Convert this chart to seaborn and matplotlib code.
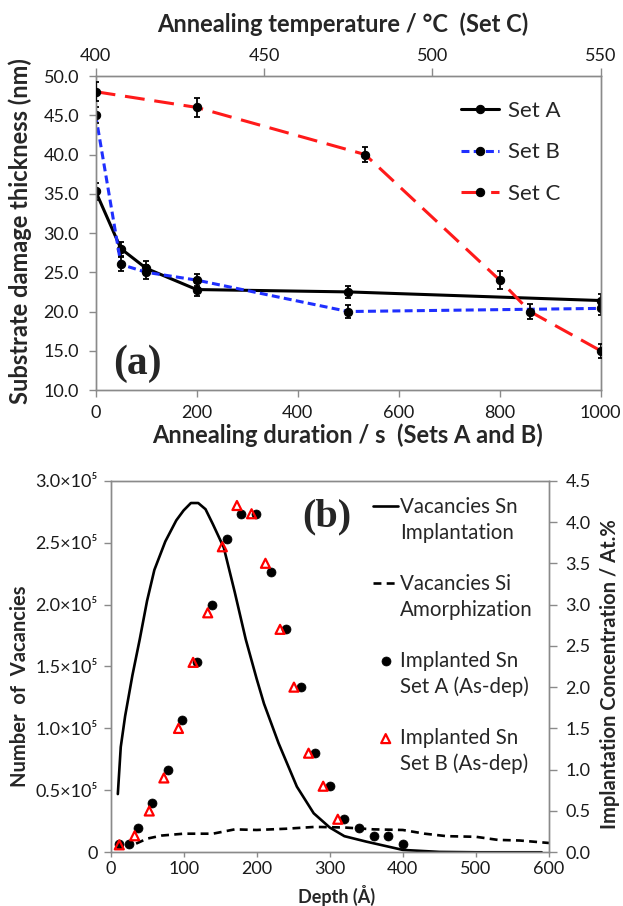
import numpy as np
import pandas as pd
import matplotlib
matplotlib.use("Agg")
import matplotlib.pyplot as plt
import seaborn as sns
from matplotlib.lines import Line2D
from matplotlib.ticker import FixedLocator, FuncFormatter

# ---------------- Panel (a) data ----------------
duration_s = [0, 50, 100, 200, 500, 1000]
set_a_nm = [35.3, 28.0, 25.5, 22.8, 22.5, 21.4]
set_a_err = [1.1, 0.9, 0.9, 0.8, 0.8, 0.8]
set_b_nm = [45.0, 26.0, 25.0, 24.0, 20.0, 20.4]
set_b_err = [1.0, 0.9, 0.9, 0.8, 0.8, 0.8]
temp_c = [400, 430, 480, 520, 529, 550]
set_c_nm = [48.0, 46.0, 40.0, 24.0, 20.0, 15.0]
set_c_err = [1.2, 1.2, 1.0, 1.1, 0.9, 0.9]

a_xticks = [0, 200, 400, 600, 800, 1000]
a_yticks = [10, 15, 20, 25, 30, 35, 40, 45, 50]
a_top_ticks = [400, 450, 500, 550]

# ---------------- Panel (b) data ----------------
vac_sn_depth = [10, 14, 20, 30, 40, 50, 60, 75, 90, 100, 110, 120, 130, 140,
                155, 170, 185, 200, 210, 230, 255, 278, 300, 320, 350, 400,
                450, 500, 550, 590]
vac_sn = [47000, 85000, 110000, 143000, 172000, 203000, 228000, 251000,
          268000, 276000, 282000, 282000, 277000, 265000, 246000, 210000,
          172000, 140000, 120000, 88000, 53000, 31500, 20000, 13000, 8600,
          1900, 300, 0, 0, 0]
vac_si_depth = [35, 50, 70, 100, 140, 170, 200, 240, 280, 320, 360, 400, 430,
                460, 500, 530, 560, 600]
vac_si = [7000, 11000, 13500, 15000, 15000, 18500, 18000, 19000, 20500, 20000,
          18500, 18000, 15000, 13000, 12500, 10000, 9500, 7500]
sn_a_depth = [12, 25, 38, 57, 78, 98, 118, 139, 159, 179, 199, 220, 240, 260,
              280, 300, 320, 340, 360, 380, 400]
sn_a_conc = [0.10, 0.10, 0.30, 0.60, 1.00, 1.60, 2.30, 3.00, 3.80, 4.10, 4.10,
             3.40, 2.70, 2.00, 1.20, 0.80, 0.40, 0.30, 0.20, 0.20, 0.10]
sn_b_depth = [12, 33, 53, 73, 93, 113, 133, 153, 173, 193, 212, 232, 251, 271,
              291, 311]
sn_b_conc = [0.09, 0.20, 0.50, 0.90, 1.50, 2.30, 2.90, 3.70, 4.20, 4.10, 3.50,
             2.70, 2.00, 1.20, 0.80, 0.40]

b_xticks = [0, 100, 200, 300, 400, 500, 600]
b_left_ticks = [0, 50000, 100000, 150000, 200000, 250000, 300000]
b_right_ticks = [0.0, 0.5, 1.0, 1.5, 2.0, 2.5, 3.0, 3.5, 4.0, 4.5]

# ---------------- Style ----------------
sns.set_style("white")
plt.rcParams["font.family"] = ["Lato", "DejaVu Sans"]
GRAY = "#8a8a8a"
TICK_FS = 13
LAB_A = 17
LAB_B = 14.5

fig = plt.figure(figsize=(6.23, 9.06), dpi=100)
ax_a = fig.add_axes([0.1536, 0.5695, 0.8106, 0.3466])
ax_b = fig.add_axes([0.1774, 0.0593, 0.7038, 0.4101])

# ---------------- Panel (a) ----------------
lw_a = 2.2
ms_a = 6
sns.lineplot(x=duration_s, y=set_a_nm, ax=ax_a, color="black", lw=lw_a,
             marker="o", markersize=ms_a, markerfacecolor="black",
             markeredgecolor="black", label="Set A", zorder=3)
ax_a.errorbar(duration_s, set_a_nm, yerr=set_a_err, fmt="none", ecolor="black",
              elinewidth=1.3, capsize=2.5, capthick=1.3, zorder=3)
sns.lineplot(x=duration_s, y=set_b_nm, ax=ax_a, color="#1f2fff", lw=lw_a,
             linestyle=(0, (2.6, 1.4)), marker="o", markersize=ms_a,
             markerfacecolor="black", markeredgecolor="black", label="Set B",
             zorder=3)
ax_a.errorbar(duration_s, set_b_nm, yerr=set_b_err, fmt="none", ecolor="black",
              elinewidth=1.3, capsize=2.5, capthick=1.3, zorder=3)

ax_c = ax_a.twiny()
sns.lineplot(x=temp_c, y=set_c_nm, ax=ax_c, color="#ff1a1a", lw=lw_a,
             linestyle=(0, (6.5, 3.2)), marker="o", markersize=ms_a,
             markerfacecolor="black", markeredgecolor="black", label="Set C",
             zorder=3)
ax_c.errorbar(temp_c, set_c_nm, yerr=set_c_err, fmt="none", ecolor="black",
              elinewidth=1.3, capsize=2.5, capthick=1.3, zorder=3)

ax_a.set_xlim(0, 1000)
ax_a.set_ylim(10, 50)
ax_c.set_xlim(400, 550)
ax_a.xaxis.set_major_locator(FixedLocator(a_xticks))
ax_a.yaxis.set_major_locator(FixedLocator(a_yticks))
ax_a.yaxis.set_major_formatter(FuncFormatter(lambda v, p: f"{v:.1f}"))
ax_c.xaxis.set_major_locator(FixedLocator(a_top_ticks))

for ax in (ax_a, ax_c):
    for s in ax.spines.values():
        s.set_color(GRAY)
        s.set_linewidth(1.0)
ax_a.tick_params(axis="x", which="both", bottom=True, top=False, direction="out",
                 length=5, width=1, color=GRAY, pad=6, labelsize=TICK_FS,
                 labelcolor="#1a1a1a")
ax_a.tick_params(axis="y", which="both", left=True, right=False, direction="out",
                 length=5, width=1, color=GRAY, pad=7, labelsize=TICK_FS,
                 labelcolor="#1a1a1a")
ax_c.tick_params(axis="x", which="both", top=True, bottom=False, direction="out",
                 length=6, width=1, color=GRAY, pad=3, labelsize=TICK_FS,
                 labelcolor="#1a1a1a")

ax_a.set_xlabel("Annealing duration / s  (Sets A and B)", fontsize=LAB_A,
                fontweight="bold", va="center")
ax_a.xaxis.set_label_coords(0.499, -0.143)
ax_a.set_ylabel("Substrate damage thickness (nm)", fontsize=LAB_A,
                fontweight="bold", va="center")
ax_a.yaxis.set_label_coords(-0.150, 0.505)
ax_c.set_xlabel("Annealing temperature / °C  (Set C)", fontsize=LAB_A,
                fontweight="bold", va="center")
ax_c.xaxis.set_label_coords(0.49, 1.165)

ax_a.text(0.034, 0.083, "(a)", transform=ax_a.transAxes, fontsize=30,
          fontweight="bold", family="Liberation Serif", va="center", ha="left")

if ax_a.get_legend() is not None:
    ax_a.get_legend().remove()
if ax_c.get_legend() is not None:
    ax_c.get_legend().remove()
h1, l1 = ax_a.get_legend_handles_labels()
h2, l2 = ax_c.get_legend_handles_labels()
ax_c.legend(h1 + h2, l1 + l2, loc="upper left", bbox_to_anchor=(0.723, 0.92),
            frameon=False, fontsize=16, handlelength=1.71, handletextpad=0.4,
            labelspacing=0.96, borderpad=0, borderaxespad=0)

# ---------------- Panel (b) ----------------
sns.lineplot(x=vac_sn_depth, y=vac_sn, ax=ax_b, color="black", lw=1.9,
             zorder=2)
sns.lineplot(x=vac_si_depth, y=vac_si, ax=ax_b, color="black", lw=1.9,
             linestyle=(0, (3, 2)), zorder=2)
ax_b2 = ax_b.twinx()
sns.scatterplot(x=sn_a_depth, y=sn_a_conc, ax=ax_b2, color="black", s=42,
                edgecolor="black", linewidth=0.5, marker="o", zorder=3)
sns.scatterplot(x=sn_b_depth, y=sn_b_conc, ax=ax_b2, marker="^", s=42,
                facecolors="none", edgecolor="#ff0000", linewidth=1.6,
                zorder=4)

ax_b.set_xlim(0, 600)
ax_b.set_ylim(0, 300000)
ax_b2.set_ylim(0, 4.5)
ax_b.xaxis.set_major_locator(FixedLocator(b_xticks))
ax_b.yaxis.set_major_locator(FixedLocator(b_left_ticks))
ax_b.yaxis.set_major_formatter(
    FuncFormatter(lambda v, p: "0" if v == 0 else f"{v / 1e5:.1f}×10⁵"))
ax_b2.yaxis.set_major_locator(FixedLocator(b_right_ticks))
ax_b2.yaxis.set_major_formatter(FuncFormatter(lambda v, p: f"{v:.1f}"))

for ax in (ax_b, ax_b2):
    for s in ax.spines.values():
        s.set_color(GRAY)
        s.set_linewidth(1.0)
ax_b.tick_params(axis="x", bottom=True, top=False, direction="out", length=3.6,
                 width=1, color=GRAY, pad=3, labelsize=TICK_FS,
                 labelcolor="#1a1a1a")
ax_b.tick_params(axis="y", left=True, right=False, direction="out", length=5,
                 width=1, color=GRAY, pad=4, labelsize=TICK_FS,
                 labelcolor="#1a1a1a")
ax_b2.tick_params(axis="y", right=True, left=False, direction="out", length=6,
                  width=1, color=GRAY, pad=6, labelsize=TICK_FS,
                  labelcolor="#1a1a1a")

ax_b.set_xlabel("Depth (Å)", fontsize=13, fontweight="bold", va="center")
ax_b.xaxis.set_label_coords(0.515, -0.115)
ax_b.set_ylabel("Number  of  Vacancies", fontsize=LAB_B, fontweight="bold",
                va="center")
ax_b.yaxis.set_label_coords(-0.206, 0.447)
ax_b2.set_ylabel("Implantation Concentration / At.%", fontsize=LAB_B,
                 fontweight="bold", va="center", rotation=90)
ax_b2.yaxis.set_label_coords(1.139, 0.48)

ax_b2.text(0.437, 0.902, "(b)", transform=ax_b2.transAxes, fontsize=29,
           fontweight="bold", family="Liberation Serif", va="center", ha="left")

# Legend (b) with spacer rows so that two-line labels align like the original
sn_line, si_line = ax_b.get_lines()[0], ax_b.get_lines()[1]
pts_a, pts_b = ax_b2.collections[0], ax_b2.collections[1]
blank = Line2D([], [], linestyle="none")
handles_b = [sn_line, blank, blank, si_line, blank, blank, pts_a, blank, blank,
             pts_b, blank]
labels_b = ["Vacancies Sn", "Implantation", " ", "Vacancies Si",
            "Amorphization", " ", "Implanted Sn", "Set A (As-dep)", " ",
            "Implanted Sn", "Set B (As-dep)"]
if ax_b2.get_legend() is not None:
    ax_b2.get_legend().remove()
ax_b2.legend(handles_b, labels_b, loc="upper left",
             bbox_to_anchor=(0.599, 0.955), frameon=False, fontsize=14.8,
             handlelength=1.22, handletextpad=0.1, labelspacing=0.27,
             borderpad=0, borderaxespad=0)

fig.savefig("out.png", dpi=100)
